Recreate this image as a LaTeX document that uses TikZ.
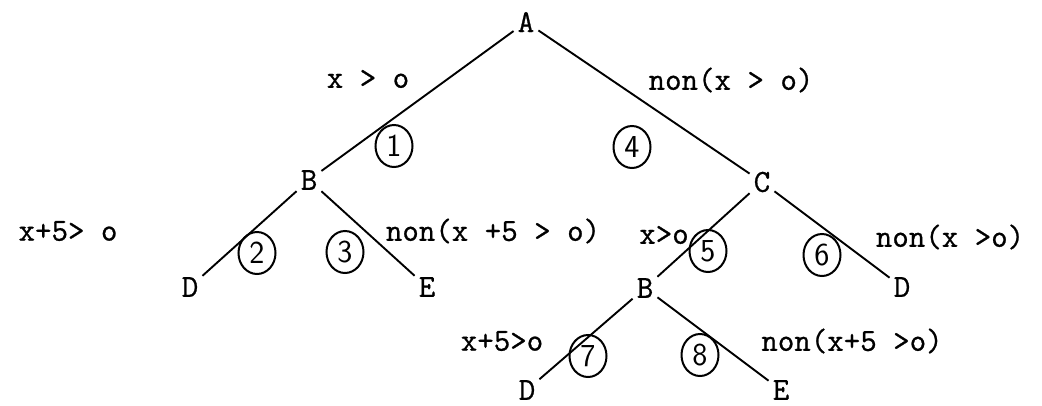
\documentclass[tikz,border=0pt]{standalone}
\usepackage{fontspec}
\setmonofont[FakeBold=0.8]{Latin Modern Mono}
\usetikzlibrary{shapes.geometric}
\begin{document}
\begin{tikzpicture}[x=1pt,y=-1pt,
  lett/.style={font=\ttfamily\fontsize{32}{34}\selectfont, inner sep=4pt},
  lab/.style={font=\ttfamily\fontsize{32}{34}\selectfont, inner sep=0pt, anchor=center},
  num/.style={ellipse, draw, line width=2pt, minimum width=37pt, minimum height=42pt, inner sep=0pt, font=\sffamily\fontsize{32}{34}\selectfont},
  edge/.style={line width=1.9pt}]
\useasboundingbox (0,0) rectangle (1042,405);
% tree nodes
\node[lett] (A) at (526,22) {A};
\node[lett] (B1) at (309,180) {B};
\node[lett] (C) at (762,182) {C};
\node[lett] (D1) at (190,287) {D};
\node[lett] (E1) at (427,287) {E};
\node[lett] (B2) at (645,288) {B};
\node[lett] (D2) at (902,287) {D};
\node[lett] (D3) at (527,390) {D};
\node[lett] (E3) at (781,390) {E};
% edges
\draw[edge] (A) -- (B1);
\draw[edge] (A) -- (C);
\draw[edge] (B1) -- (D1);
\draw[edge] (B1) -- (E1);
\draw[edge] (C) -- (B2);
\draw[edge] (C) -- (D2);
\draw[edge] (B2) -- (D3);
\draw[edge] (B2) -- (E3);
% condition labels
\node[lab] (l1) at (368,79) {x > o};
\node[lab] (l4) at (731,80) {non(x > o)};
\node[lab] (l2) at (68,231) {x+5> o};
\node[lab] (l3) at (493,231) {non(x +5 > o)};
\node[lab] (l5) at (664,235) {x>o};
\node[lab] (l6) at (950,237) {non(x >o)};
\node[lab] (l7) at (502,341) {x+5>o};
\node[lab] (l8) at (852,341) {non(x+5 >o)};
% circled numbers
\node[num] (c1) at (394,146) {1};
\node[num] (c4) at (632,147) {4};
\node[num] (c2) at (257,253) {2};
\node[num] (c3) at (345,252) {3};
\node[num] (c5) at (708,251) {5};
\node[num] (c6) at (822,255) {6};
\node[num] (c7) at (588,356) {7};
\node[num] (c8) at (700,355) {8};
\end{tikzpicture}
\end{document}
